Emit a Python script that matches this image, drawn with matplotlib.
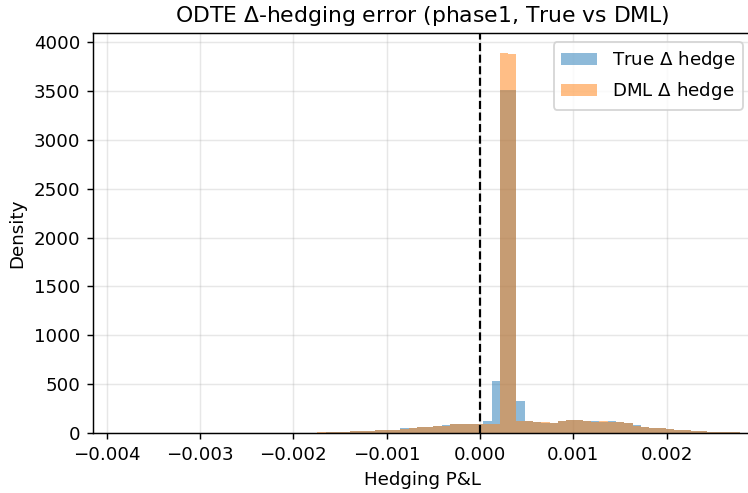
import numpy as np
import matplotlib
matplotlib.use("Agg")
import matplotlib.pyplot as plt

##### histogram bins (80 bins over the P&L range)
bin_lo = -0.004143
bin_w = 0.0000889
n_bins = 80

##### densities read per bin, index 0..79
dml_density = [0] * 23 + [
    1, 1, 2, 3, 6, 8, 10, 12, 18, 22,            # 23-32
    22, 30, 32, 34, 45, 48, 60, 62, 74, 76,      # 33-42
    90, 92, 88, 92, 92, 94, 3889, 3879, 126, 119,  # 43-52
    110, 108, 102, 126, 136, 133, 125, 115, 120, 115,  # 53-62
    109, 102, 76, 62, 48, 48, 40, 32, 28, 20,    # 63-72
    18, 12, 9, 7, 6, 5, 4]                       # 73-79
true_density = [0] * 23 + [
    1, 1, 3, 3, 5, 7, 11, 12, 16, 21,
    23, 29, 33, 35, 48, 47, 58, 64, 72, 78,
    92, 96, 95, 90, 126, 535, 3514, 3514, 331, 118,
    111, 107, 103, 124, 134, 131, 126, 118, 115, 120,
    108, 100, 82, 64, 50, 52, 41, 35, 32, 21,
    17, 13, 10, 7, 6, 5, 4]

edges = bin_lo + bin_w * np.arange(n_bins + 1)
centers = 0.5 * (edges[:-1] + edges[1:])

dpi = 131
fig = plt.figure(figsize=(748 / dpi, 493 / dpi), dpi=dpi)
ax = fig.add_axes([93.3 / 748, 1 - 433 / 493, (752 - 93.3) / 748, 400 / 493])

ax.hist(centers, bins=edges, weights=true_density, alpha=0.5, label=r'True $\Delta$ hedge')
ax.hist(centers, bins=edges, weights=dml_density, alpha=0.5, label=r'DML $\Delta$ hedge')
ax.axvline(0, color='k', linestyle='--', linewidth=1.2)

ax.set_xlim(-0.004143, 0.002915)
ax.set_ylim(0, 4094)
ax.set_xticks([-0.004, -0.003, -0.002, -0.001, 0, 0.001, 0.002])
ax.grid(True, alpha=0.3)
ax.set_axisbelow(True)
ax.set_xlabel('Hedging P&L')
ax.set_ylabel('Density')
ax.set_title(r'ODTE $\Delta$-hedging error (phase1, True vs DML)')
ax.legend(loc='upper right')

fig.savefig('out.png', dpi=dpi)
